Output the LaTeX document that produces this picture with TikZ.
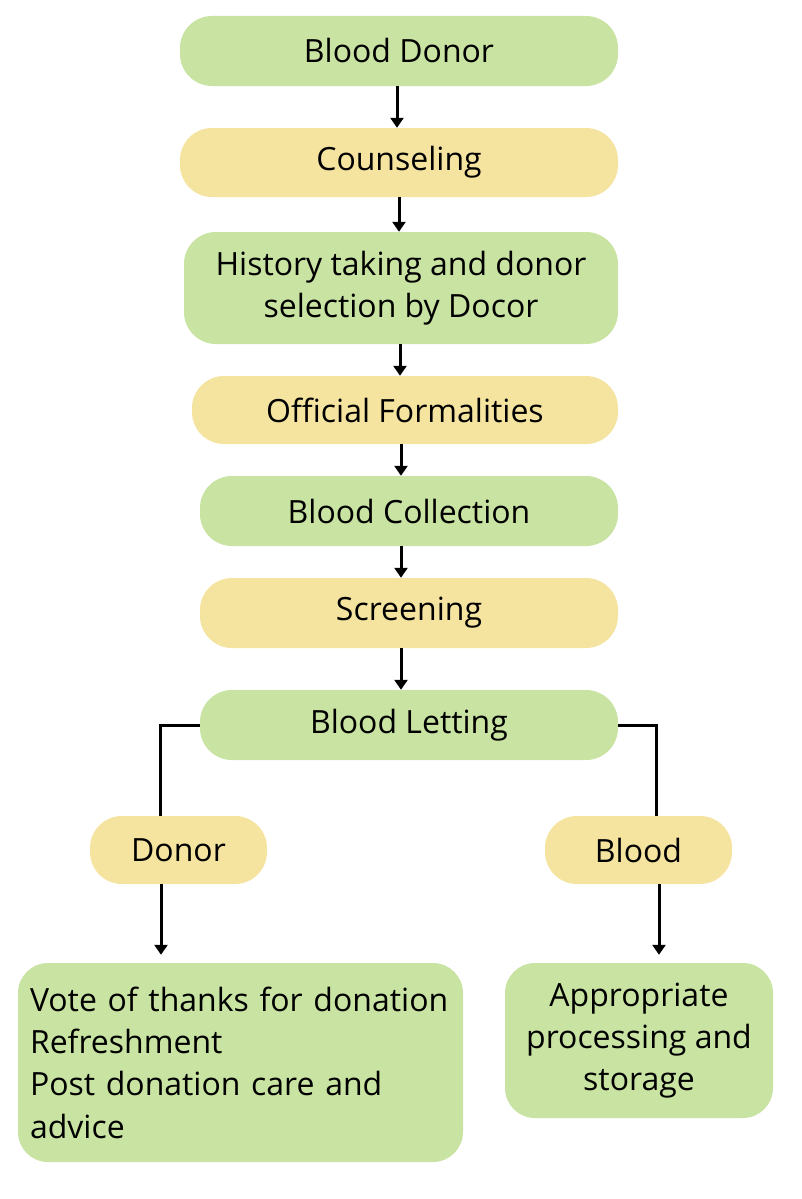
\documentclass[tikz,border=0pt]{standalone}
\usepackage{fontspec}
\setmainfont{Open Sans}
\usetikzlibrary{arrows.meta}
\definecolor{boxgreen}{HTML}{C8E3A2}
\definecolor{boxyellow}{HTML}{F5E3A0}
\tikzset{
  pill/.style={rectangle, rounded corners=32pt, inner sep=0pt, align=center,
    font=\fontsize{32}{42.3}\selectfont},
  gbox/.style={pill, fill=boxgreen},
  ybox/.style={pill, fill=boxyellow},
  conn/.style={line width=3pt, -{Triangle[width=13pt,length=10pt]}},
  plain/.style={line width=3pt}
}
\begin{document}
\begin{tikzpicture}[x=1pt,y=-1pt]
\useasboundingbox (0,0) rectangle (802,1199);
\node[gbox, minimum width=438pt, minimum height=70pt] (n1) at (399,51) {Blood Donor};
\node[ybox, minimum width=438pt, minimum height=69pt] (n2) at (399,162.5) {Counseling};
\node[gbox, minimum width=434pt, minimum height=112pt] (n3) at (401,288) {History taking and donor\\selection by Docor};
\node[ybox, minimum width=426pt, minimum height=68pt] (n4) at (405,410) {Official Formalities};
\node[gbox, minimum width=418pt, minimum height=70pt] (n5) at (409,511) {Blood Collection};
\node[ybox, minimum width=418pt, minimum height=70pt] (n6) at (409,613) {Screening};
\node[gbox, minimum width=418pt, minimum height=70pt] (n7) at (409,725) {Blood Letting};
\node[ybox, minimum width=177pt, minimum height=68pt] (n8) at (178.5,850) {Donor};
\node[ybox, minimum width=187pt, minimum height=68pt] (n9) at (638.5,850) {Blood};
\node[gbox, minimum width=445pt, minimum height=199pt, align=left, text width=421pt, inner xsep=12pt, rounded corners=30pt] (n10) at (240.5,1062.5) {Vote of thanks for donation\\Refreshment\\Post donation care and\\advice};
\node[gbox, minimum width=268pt, minimum height=155pt, rounded corners=30pt] (n11) at (639,1040.5) {Appropriate\\processing and\\storage};
\coordinate (xa) at (397,0);
\coordinate (xb) at (399,0);
\coordinate (xc) at (400,0);
\coordinate (xd) at (401,0);
\coordinate (xl) at (160,0);
\coordinate (xr) at (656,0);
\coordinate (xdl) at (161,0);
\coordinate (xdr) at (659,0);
\draw[conn] (xa |- n1.south) -- (xa |- n2.north);
\draw[conn] (xb |- n2.south) -- (xb |- n3.north);
\draw[conn] (xc |- n3.south) -- (xc |- n4.north);
\draw[conn] (xd |- n4.south) -- (xd |- n5.north);
\draw[conn] (xd |- n5.south) -- (xd |- n6.north);
\draw[conn] (xd |- n6.south) -- (xd |- n7.north);
\draw[plain] (n7.west) -- (xl |- n7.west) -- (xl |- n8.north);
\draw[plain] (n7.east) -- (xr |- n7.east) -- (xr |- n9.north);
\draw[conn] (xdl |- n8.south) -- ([yshift=8pt]xdl |- n10.north);
\draw[conn] (xdr |- n9.south) -- ([yshift=8pt]xdr |- n11.north);
\end{tikzpicture}
\end{document}
